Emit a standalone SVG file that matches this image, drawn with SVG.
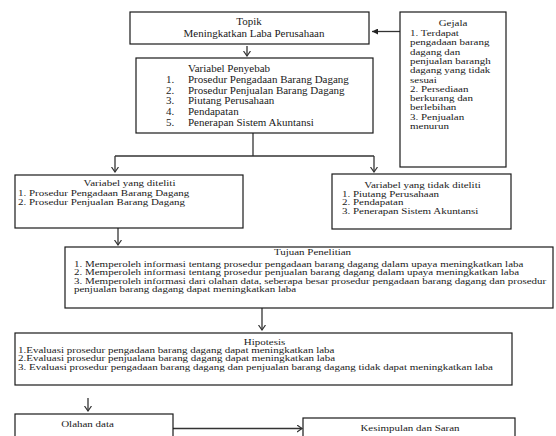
<svg xmlns="http://www.w3.org/2000/svg" width="556" height="436" viewBox="0 0 556 436">
<style>
.box{fill:#fff;stroke:#1a1a1a;stroke-width:1.2}
.ln{fill:none;stroke:#333;stroke-width:1.3}
text{font-family:"Liberation Serif","Times New Roman",serif;fill:#1a1a1a}
.s{font-size:9px}
.xs{font-size:7.4px}
.m{font-size:10px}
.c{text-anchor:middle}
</style>
<defs>
<marker id="v" markerUnits="userSpaceOnUse" viewBox="0 0 6 8" refX="5.5" refY="4" markerWidth="6" markerHeight="8" orient="auto">
<path d="M0.5,0.5 L5.5,4 L0.5,7.5" fill="none" stroke="#333" stroke-width="1.2"/>
</marker>
<marker id="f" markerUnits="userSpaceOnUse" viewBox="0 0 6 6" refX="6" refY="3" markerWidth="6" markerHeight="6" orient="auto">
<path d="M0,0 L6,3 L0,6 Z" fill="#222"/>
</marker>
</defs>
<rect width="556" height="436" fill="#fff"/>

<g id="connectors">
<line class="ln" x1="400" y1="31.5" x2="372" y2="31.5" marker-end="url(#f)"/>
<line class="ln" x1="247" y1="46" x2="247" y2="56" marker-end="url(#v)"/>
<polyline class="ln" points="253,133 253,156"/>
<polyline class="ln" points="115,156 374,156"/>
<line class="ln" x1="115" y1="156" x2="115" y2="172" marker-end="url(#v)"/>
<line class="ln" x1="374" y1="156" x2="374" y2="172" marker-end="url(#v)"/>
<line class="ln" x1="118" y1="228" x2="118" y2="245" marker-end="url(#v)"/>
<line class="ln" x1="262" y1="308" x2="262" y2="330" marker-end="url(#v)"/>
<line class="ln" x1="88" y1="398" x2="88" y2="411" marker-end="url(#v)"/>
<line class="ln" x1="173" y1="428.5" x2="302" y2="428.5" marker-end="url(#v)"/>
</g>

<g id="topik">
<rect class="box" x="130" y="12" width="239" height="32"/>
<text class="m c" transform="translate(249,25) scale(1.1,1)">Topik</text>
<text class="m c" transform="translate(254,36.5) scale(1.1,1)">Meningkatkan Laba Perusahaan</text>
</g>

<g id="gejala">
<rect class="box" x="400" y="12" width="106" height="155"/>
<text class="s c" transform="translate(453,26) scale(1.22,1)">Gejala</text>
<text class="s" transform="translate(410,36) scale(1.22,1)">1. Terdapat</text>
<text class="s" transform="translate(410,45.3) scale(1.22,1)">pengadaan barang</text>
<text class="s" transform="translate(410,54.6) scale(1.22,1)">dagang dan</text>
<text class="s" transform="translate(410,63.9) scale(1.22,1)">penjualan barangh</text>
<text class="s" transform="translate(410,73.2) scale(1.22,1)">dagang yang tidak</text>
<text class="s" transform="translate(410,82.5) scale(1.22,1)">sesuai</text>
<text class="s" transform="translate(410,91.8) scale(1.22,1)">2. Persediaan</text>
<text class="s" transform="translate(410,101.1) scale(1.22,1)">berkurang dan</text>
<text class="s" transform="translate(410,110.4) scale(1.22,1)">berlebihan</text>
<text class="s" transform="translate(410,119.7) scale(1.22,1)">3. Penjualan</text>
<text class="s" transform="translate(410,129) scale(1.22,1)">menurun</text>
</g>

<g id="variabel-penyebab">
<rect class="box" x="136" y="58" width="237" height="75"/>
<text class="m" transform="translate(188,71.5) scale(1.1,1)">Variabel Penyebab</text>
<text class="m" transform="translate(166,83) scale(1.1,1)">1.</text>
<text class="m" transform="translate(188,83) scale(1.1,1)">Prosedur Pengadaan Barang Dagang</text>
<text class="m" transform="translate(166,93.7) scale(1.1,1)">2.</text>
<text class="m" transform="translate(188,93.7) scale(1.1,1)">Prosedur Penjualan Barang Dagang</text>
<text class="m" transform="translate(166,104.4) scale(1.1,1)">3.</text>
<text class="m" transform="translate(188,104.4) scale(1.1,1)">Piutang Perusahaan</text>
<text class="m" transform="translate(166,115.1) scale(1.1,1)">4.</text>
<text class="m" transform="translate(188,115.1) scale(1.1,1)">Pendapatan</text>
<text class="m" transform="translate(166,125.8) scale(1.1,1)">5.</text>
<text class="m" transform="translate(188,125.8) scale(1.1,1)">Penerapan Sistem Akuntansi</text>
</g>

<g id="variabel-diteliti">
<rect class="box" x="15" y="175" width="228" height="53"/>
<text class="s c" transform="translate(129.5,186) scale(1.22,1)">Variabel yang diteliti</text>
<text class="s" transform="translate(18,196) scale(1.22,1)">1. Prosedur Pengadaan Barang Dagang</text>
<text class="s" transform="translate(18,205) scale(1.22,1)">2. Prosedur Penjualan Barang Dagang</text>
</g>

<g id="variabel-tidak-diteliti">
<rect class="box" x="332" y="174" width="179" height="55"/>
<text class="s c" transform="translate(422.5,188) scale(1.22,1)">Variabel yang tidak diteliti</text>
<text class="s" transform="translate(342,196.5) scale(1.22,1)">1. Piutang Perusahaan</text>
<text class="s" transform="translate(342,205.3) scale(1.22,1)">2. Pendapatan</text>
<text class="s" transform="translate(342,214.2) scale(1.22,1)">3. Penerapan Sistem Akuntansi</text>
</g>

<g id="tujuan">
<rect class="box" x="65" y="247" width="488" height="61"/>
<text class="s c" transform="translate(312.5,255) scale(1.22,1)">Tujuan Penelitian</text>
<text class="xs" transform="translate(74,266.5) scale(1.485,1)">1. Memperoleh informasi tentang prosedur pengadaan barang dagang dalam upaya meningkatkan laba</text>
<text class="xs" transform="translate(74,275) scale(1.485,1)">2. Memperoleh informasi tentang prosedur penjualan barang dagang dalam upaya meningkatkan laba</text>
<text class="xs" transform="translate(74,283.5) scale(1.485,1)">3. Memperoleh informasi dari olahan data, seberapa besar prosedur pengadaan barang dagang dan prosedur</text>
<text class="xs" transform="translate(74,292) scale(1.485,1)">penjualan barang dagang dapat meningkatkan laba</text>
</g>

<g id="hipotesis">
<rect class="box" x="15" y="333" width="497" height="52"/>
<text class="xs c" transform="translate(264.5,344.5) scale(1.485,1)">Hipotesis</text>
<text class="xs" transform="translate(18,353) scale(1.485,1)">1.Evaluasi prosedur pengadaan barang dagang dapat meningkatkan laba</text>
<text class="xs" transform="translate(18,361.4) scale(1.485,1)">2.Evaluasi prosedur penjualana barang dagang dapat meningkatkan laba</text>
<text class="xs" transform="translate(18,369.8) scale(1.485,1)">3. Evaluasi prosedur pengadaan barang dagang dan penjualan barang dagang tidak dapat meningkatkan laba</text>
</g>

<g id="olahan-data">
<rect class="box" x="15" y="414" width="158" height="40"/>
<text class="s c" transform="translate(87.5,427) scale(1.22,1)">Olahan data</text>
</g>

<g id="kesimpulan">
<rect class="box" x="303" y="418" width="212" height="40"/>
<text class="s c" transform="translate(410,431) scale(1.22,1)">Kesimpulan dan Saran</text>
</g>
</svg>
